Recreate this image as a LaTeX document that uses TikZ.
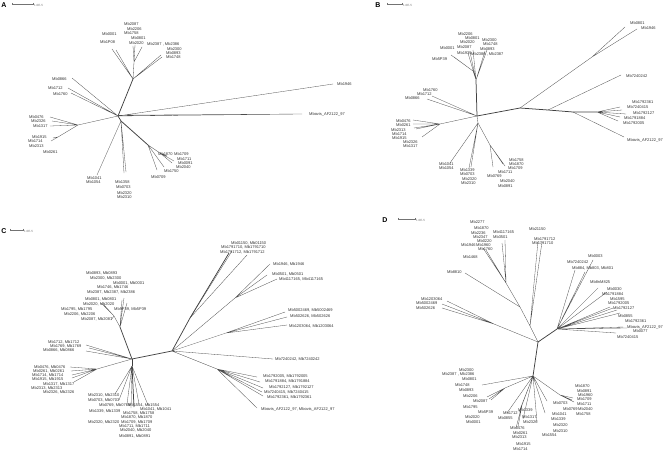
\documentclass[tikz,border=0pt]{standalone}
\usepackage{fontspec}
\setmainfont{Liberation Sans}

\tikzset{
  branch/.style = {draw=black!70, line width=0.3pt},
  trunk/.style = {draw=black!75, line width=0.75pt},
  taxon/.style = {font=\fontsize{4}{4.5}\selectfont, text=black!80, inner sep=0pt, anchor=west},
  panel/.style = {font=\bfseries\fontsize{7}{8}\selectfont, inner sep=0pt},
  scalebar/.style = {draw=black!55, line width=0.3pt},
  scaletext/.style = {font=\fontsize{3}{3.5}\selectfont, text=black!55, inner sep=0pt, anchor=west},
}

\begin{document}
\begin{tikzpicture}[x=1pt, y=-1pt]
  \useasboundingbox (0,0) rectangle (669,452);

  %% ---------------- panel A ----------------
  \node [panel] (pA) at (4,5) {A};
  \coordinate (sA1) at (12,4); \coordinate (sA2) at (33,4);
  \draw [scalebar] (sA1) -- (sA2) (sA1) ++(0,-1.2) -- ++(0,2.4) (sA2) ++(0,-1.2) -- ++(0,2.4);
  \node [scaletext] (sAt) at (34,5) {1.0E-5};

  \coordinate (aHub) at (118,116);
  \coordinate (aUp) at (133,79);
  \coordinate (aUpM) at (134,62);
  \coordinate (aLeft) at (78,125);
  \coordinate (aLeft2) at (58,137);
  \coordinate (aDown) at (121,121);
  \coordinate (aRb) at (148,145);
  \coordinate (aRb2) at (160,153);
  %% tips
  \coordinate (aT1) at (112,49);  \coordinate (aT2) at (116,50);
  \coordinate (aT3) at (133,46);  \coordinate (aT4) at (135,45);
  \coordinate (aT5) at (142,47);  \coordinate (aT6) at (161,55);
  \coordinate (aT7) at (162,57);  \coordinate (aT8) at (72,78);
  \coordinate (aT9) at (68,88);   \coordinate (aT10) at (71,93);
  \coordinate (aT11) at (50,117); \coordinate (aT12) at (52,121);
  \coordinate (aT13) at (50,126); \coordinate (aT14) at (51,141);
  \coordinate (aT15) at (53,138); \coordinate (aT16) at (333,84);
  \coordinate (aT17) at (302,114);\coordinate (aT18) at (124,173);
  \coordinate (aT19) at (126,172);\coordinate (aT20) at (97,175);
  \coordinate (aT21) at (157,170);\coordinate (aT22) at (167,156);
  \coordinate (aT23) at (172,163);\coordinate (aT24) at (174,161);
  \coordinate (aT25) at (164,167);

  \draw [trunk] (aHub) -- (aUp);
  \draw [branch] (aUp) -- (aT1) (aUp) -- (aT2) (aUp) -- (aUpM) -- (aT3) (aUpM) -- (aT4)
    (aUpM) -- (aT5) (aUp) -- (aT6) (aUp) -- (aT7);
  \draw [branch] (aHub) -- (aT8) (aHub) -- (aT9) (aHub) -- (aT10);
  \draw [branch] (aHub) -- (aLeft) -- (aT11) (aLeft) -- (aT12) (aLeft) -- (aT13)
    (aLeft) -- (aLeft2) -- (aT14) (aLeft2) -- (aT15);
  \draw [branch] (aHub) -- (aT16) (aHub) -- (aT17) ([yshift=0.8pt]aHub) -- (aT17);
  \draw [trunk] (aHub) -- (aDown) -- (aRb);
  \draw [branch] (aDown) -- (aT18) (aDown) -- (aT19) (aDown) -- (aT20)
    (aRb) -- (aT21) (aRb) -- (aRb2) -- (aT22) (aRb2) -- (aT23) (aRb2) -- (aT24) (aRb) -- (aT25);

  \node [taxon] (aL1) at (124,24) {Mb2087};
  \node [taxon] (aL2) at (127,29) {Mb2206};
  \node [taxon] (aL3) at (124,33) {Mb1758};
  \node [taxon] (aL4) at (102,34) {Mb0001};
  \node [taxon] (aL5) at (131,38) {Mb0801};
  \node [taxon] (aL6) at (100,42) {Mb1P08};
  \node [taxon] (aL7) at (129,43) {Mb2020};
  \node [taxon] (aL8) at (147,44) {Mb2387 , Mb2386};
  \node [taxon] (aL9) at (167,49) {Mb2300};
  \node [taxon] (aL10) at (166,53) {Mb0893};
  \node [taxon] (aL11) at (166,57) {Mb1748};
  \node [taxon] (aL12) at (52,79) {Mb0866};
  \node [taxon] (aL13) at (48,88) {Mb1712};
  \node [taxon] (aL14) at (53,94) {Mb1760};
  \node [taxon] (aL15) at (29,117) {Mb0476};
  \node [taxon] (aL16) at (31,121) {Mb2326};
  \node [taxon] (aL17) at (33,126) {Mb1317};
  \node [taxon] (aL18) at (32,137) {Mb1915};
  \node [taxon] (aL19) at (28,141) {Mb1714};
  \node [taxon] (aL20) at (29,146) {Mb2313};
  \node [taxon] (aL21) at (43,152) {Mb0261};
  \node [taxon] (aL22) at (337,84) {Mb1946};
  \node [taxon] (aL23) at (309,114) {Mbovis\_AF2122\_97};
  \node [taxon] (aL24) at (158,154) {Mb1870};
  \node [taxon] (aL25) at (174,154) {Mb1709};
  \node [taxon] (aL26) at (177,159) {Mb1711};
  \node [taxon] (aL27) at (178,163) {Mb0091};
  \node [taxon] (aL28) at (176,167) {Mb2040};
  \node [taxon] (aL29) at (164,171) {Mb1750};
  \node [taxon] (aL30) at (151,177) {Mb0709};
  \node [taxon] (aL31) at (87,178) {Mb1041};
  \node [taxon] (aL32) at (86,182) {Mb1054};
  \node [taxon] (aL33) at (115,182) {Mb1358};
  \node [taxon] (aL34) at (116,187) {Mb0703};
  \node [taxon] (aL35) at (117,193) {Mb2320};
  \node [taxon] (aL36) at (117,197) {Mb2310};

  %% ---------------- panel B ----------------
  \node [panel] (pB) at (378,5) {B};
  \coordinate (sB1) at (387,4); \coordinate (sB2) at (402,4);
  \draw [scalebar] (sB1) -- (sB2) (sB1) ++(0,-1.2) -- ++(0,2.4) (sB2) ++(0,-1.2) -- ++(0,2.4);
  \node [scaletext] (sBt) at (403,5) {1.0E-5};

  \coordinate (bHub) at (477,116);
  \coordinate (bUp) at (476,80);
  \coordinate (bUpL) at (473,71);
  \coordinate (bLeft) at (440,124);
  \coordinate (bDown) at (478,123);
  \coordinate (bRb) at (490,145);
  \coordinate (bR1) at (520,108);
  \coordinate (bR2) at (548,110);
  \coordinate (bR3) at (573,112);
  \coordinate (bR4) at (597,112);
  \coordinate (bB1) at (592,57);
  %% tips
  \coordinate (bT1) at (451,55);  \coordinate (bT2) at (454,57);
  \coordinate (bT3) at (468,53);  \coordinate (bT4) at (470,52);
  \coordinate (bT5) at (473,50);  \coordinate (bT6) at (485,51);
  \coordinate (bT7) at (487,50);  \coordinate (bT8) at (432,96);
  \coordinate (bT9) at (427,99);  \coordinate (bT10) at (413,120);
  \coordinate (bT11) at (413,124);\coordinate (bT12) at (414,128);
  \coordinate (bT13) at (416,129);\coordinate (bT14) at (422,137);
  \coordinate (bT15) at (450,163);\coordinate (bT16) at (469,168);
  \coordinate (bT17) at (471,167);\coordinate (bT18) at (493,167);
  \coordinate (bT19) at (503,164);\coordinate (bT20) at (505,166);
  \coordinate (bT21) at (625,27); \coordinate (bT22) at (637,29);
  \coordinate (bT23) at (621,75); \coordinate (bT24) at (620,107);
  \coordinate (bT25) at (622,110);\coordinate (bT26) at (626,114);
  \coordinate (bT27) at (620,117);\coordinate (bT28) at (618,121);
  \coordinate (bT29) at (624,137);

  \draw [trunk] (bHub) -- (bUp);
  \draw [branch] (bUp) -- (bUpL) -- (bT1) (bUpL) -- (bT2) (bUp) -- (bT3) (bUp) -- (bT4)
    (bUp) -- (bT5) (bUp) -- (bT6) (bUp) -- (bT7);
  \draw [branch] (bHub) -- (bT8) (bHub) -- (bT9);
  \draw [branch] (bHub) -- (bLeft) -- (bT10) (bLeft) -- (bT11) (bLeft) -- (bT12)
    (bLeft) -- (bT13) (bLeft) -- (bT14);
  \draw [branch] (bHub) -- (bDown) -- (bT15) (bDown) -- (bT16) (bDown) -- (bT17)
    (bDown) -- (bRb) -- (bT18) (bRb) -- (bT19) (bRb) -- (bT20);
  \draw [trunk] (bHub) -- (bR1) -- (bR2) -- (bR3) -- (bR4);
  \draw [branch] (bR1) -- (bB1) -- (bT21) (bB1) -- (bT22) (bR2) -- (bT23)
    (bR4) -- (bT24) (bR4) -- (bT25) (bR4) -- (bT26) (bR4) -- (bT27) (bR4) -- (bT28)
    (bR3) -- (bT29);

  \node [taxon] (bL1) at (458,34) {Mb2206};
  \node [taxon] (bL2) at (465,38) {Mb0801};
  \node [taxon] (bL3) at (460,42) {Mb2020};
  \node [taxon] (bL4) at (482,40) {Mb2300};
  \node [taxon] (bL5) at (483,44) {Mb1748};
  \node [taxon] (bL6) at (480,49) {Mb0893};
  \node [taxon] (bL7) at (440,48) {Mb0001};
  \node [taxon] (bL8) at (457,47) {Mb2087};
  \node [taxon] (bL9) at (457,53) {Mb1935};
  \node [taxon] (bL10) at (471,54) {Mb2386 , Mb2387};
  \node [taxon] (bL11) at (432,59) {Mb5P39};
  \node [taxon] (bL12) at (423,90) {Mb1760};
  \node [taxon] (bL13) at (417,94) {Mb1712};
  \node [taxon] (bL14) at (405,98) {Mb0866};
  \node [taxon] (bL15) at (396,121) {Mb0476};
  \node [taxon] (bL16) at (396,125) {Mb0261};
  \node [taxon] (bL17) at (391,130) {Mb2313};
  \node [taxon] (bL18) at (392,134) {Mb1714};
  \node [taxon] (bL19) at (392,138) {Mb1915};
  \node [taxon] (bL20) at (403,142) {Mb2326};
  \node [taxon] (bL21) at (403,146) {Mb1317};
  \node [taxon] (bL22) at (439,164) {Mb1041};
  \node [taxon] (bL23) at (439,168) {Mb1054};
  \node [taxon] (bL24) at (460,170) {Mb1339};
  \node [taxon] (bL25) at (460,174) {Mb0703};
  \node [taxon] (bL26) at (462,179) {Mb2320};
  \node [taxon] (bL27) at (461,183) {Mb2310};
  \node [taxon] (bL28) at (509,160) {Mb1758};
  \node [taxon] (bL29) at (509,164) {Mb1870};
  \node [taxon] (bL30) at (508,168) {Mb1709};
  \node [taxon] (bL31) at (498,172) {Mb1711};
  \node [taxon] (bL32) at (487,176) {Mb0769};
  \node [taxon] (bL33) at (500,181) {Mb2040};
  \node [taxon] (bL34) at (498,186) {Mb0891};
  \node [taxon] (bL35) at (630,23) {Mb0801};
  \node [taxon] (bL36) at (641,28) {Mb1946};
  \node [taxon] (bL37) at (626,76) {Mb7240242};
  \node [taxon] (bL38) at (632,102) {Mb1792361};
  \node [taxon] (bL39) at (627,107) {Mb7240415};
  \node [taxon] (bL40) at (633,113) {Mb1792127};
  \node [taxon] (bL41) at (624,118) {Mb1791884};
  \node [taxon] (bL42) at (623,123) {Mb1792005};
  \node [taxon] (bL43) at (627,140) {Mbovis\_AF2122\_97};

  %% ---------------- panel C ----------------
  \node [panel] (pC) at (4,231) {C};
  \coordinate (sC1) at (10,230); \coordinate (sC2) at (23,230);
  \draw [scalebar] (sC1) -- (sC2) (sC1) ++(0,-1.2) -- ++(0,2.4) (sC2) ++(0,-1.2) -- ++(0,2.4);
  \node [scaletext] (sCt) at (24,231) {1.0E-5};

  \coordinate (cHub) at (132,359);
  \coordinate (cUp) at (120,327);
  \coordinate (cUpL) at (114,316);
  \coordinate (cLeft) at (97,369);
  \coordinate (cDown) at (132,366);
  \coordinate (cR) at (172,351);
  \coordinate (cRu) at (190,318);
  \coordinate (cRm) at (235,298);
  \coordinate (cRl2) at (226,333);
  \coordinate (cRl) at (217,369);
  %% tips
  \coordinate (cT1) at (104,305); \coordinate (cT2) at (101,303);
  \coordinate (cT3) at (108,310); \coordinate (cT4) at (111,320);
  \coordinate (cT5) at (122,300); \coordinate (cT6) at (124,298);
  \coordinate (cT7) at (127,303); \coordinate (cT8) at (86,345);
  \coordinate (cT9) at (89,348);  \coordinate (cT10) at (86,351);
  \coordinate (cT11) at (70,367); \coordinate (cT12) at (71,371);
  \coordinate (cT13) at (72,375); \coordinate (cT14) at (72,378);
  \coordinate (cT15) at (74,382); \coordinate (cT16) at (115,394);
  \coordinate (cT17) at (119,400);\coordinate (cT18) at (127,404);
  \coordinate (cT19) at (131,408);\coordinate (cT20) at (134,407);
  \coordinate (cT21) at (139,404);\coordinate (cT22) at (148,405);
  \coordinate (cT23) at (229,253);\coordinate (cT24) at (232,251);
  \coordinate (cT25) at (247,255);\coordinate (cT26) at (270,264);
  \coordinate (cT27) at (267,275);\coordinate (cT28) at (277,279);
  \coordinate (cT29) at (285,312);\coordinate (cT30) at (287,317);
  \coordinate (cT31) at (287,325);\coordinate (cT32) at (273,359);
  \coordinate (cT33) at (257,377);\coordinate (cT34) at (260,382);
  \coordinate (cT35) at (263,388);\coordinate (cT36) at (262,392);
  \coordinate (cT37) at (263,396);\coordinate (cT38) at (257,408);

  \draw [trunk] (cHub) -- (cUp);
  \draw [branch] (cUp) -- (cUpL) -- (cT1) (cUpL) -- (cT2) (cUpL) -- (cT3) (cUpL) -- (cT4)
    (cUp) -- (cT5) (cUp) -- (cT6) (cUp) -- (cT7);
  \draw [branch] (cHub) -- (cT8) (cHub) -- (cT9) (cHub) -- (cT10);
  \draw [branch] (cHub) -- (cLeft) -- (cT11) (cLeft) -- (cT12) (cLeft) -- (cT13)
    (cLeft) -- (cT14) (cLeft) -- (cT15);
  \draw [trunk] (cHub) -- (cDown);
  \draw [branch] (cDown) -- (cT16) (cDown) -- (cT17) (cDown) -- (cT18) (cDown) -- (cT19)
    (cDown) -- (cT21) (cDown) -- (cT22);
  \draw [trunk] (cDown) -- (cT20);
  \draw [trunk] (cHub) -- (cR) -- (cRu) -- (cT23);
  \draw [branch] (cRu) -- (cT24) (cRu) -- (cT25)
    (cR) -- (cRm) -- (cT26) (cRm) -- (cT27) (cRm) -- (cT28)
    (cR) -- (cRl2) -- (cT29) (cRl2) -- (cT30) (cRl2) -- (cT31)
    (cR) -- (cT32)
    (cR) -- (cRl) -- (cT33) (cRl) -- (cT34) (cRl) -- (cT35) (cRl) -- (cT36) (cRl) -- (cT37)
    (cRl) -- (cT38);

  \node [taxon] (cL1) at (86,273) {Mb0893, Mb0893};
  \node [taxon] (cL2) at (90,278) {Mb2300, Mb2300};
  \node [taxon] (cL3) at (113,283) {Mb0001, Mb0001};
  \node [taxon] (cL4) at (97,287) {Mb1746, Mb1746};
  \node [taxon] (cL5) at (87,292) {Mb2387, Mb2387, Mb2386};
  \node [taxon] (cL6) at (85,299) {Mb0801, Mb0801};
  \node [taxon] (cL7) at (83,304) {Mb2020, Mb2020};
  \node [taxon] (cL8) at (114,309) {Mb5P39, Mb5P39};
  \node [taxon] (cL9) at (61,309) {Mb1795, Mb1795};
  \node [taxon] (cL10) at (64,314) {Mb2206, Mb2206};
  \node [taxon] (cL11) at (81,319) {Mb2087, Mb2087};
  \node [taxon] (cL12) at (48,342) {Mb1712, Mb1712};
  \node [taxon] (cL13) at (50,346) {Mb1769, Mb1769};
  \node [taxon] (cL14) at (43,350) {Mb0866, Mb0866};
  \node [taxon] (cL15) at (34,367) {Mb0476, Mb0476};
  \node [taxon] (cL16) at (33,371) {Mb0261, Mb0261};
  \node [taxon] (cL17) at (32,375) {Mb1714, Mb1714};
  \node [taxon] (cL18) at (32,379) {Mb1915, Mb1915};
  \node [taxon] (cL19) at (43,384) {Mb1317, Mb1317};
  \node [taxon] (cL20) at (31,388) {Mb2313, Mb2313};
  \node [taxon] (cL21) at (43,392) {Mb2326, Mb2326};
  \node [taxon] (cL22) at (88,395) {Mb2310, Mb2310};
  \node [taxon] (cL23) at (88,400) {Mb0703, Mb0703};
  \node [taxon] (cL24) at (99,405) {Mb0769, Mb0769};
  \node [taxon] (cL25) at (128,405) {Mb1554, Mb1554};
  \node [taxon] (cL26) at (140,409) {Mb1041, Mb1041};
  \node [taxon] (cL27) at (89,411) {Mb1339, Mb1339};
  \node [taxon] (cL28) at (123,413) {Mb1758, Mb1758};
  \node [taxon] (cL29) at (121,417) {Mb1870, Mb1870};
  \node [taxon] (cL30) at (88,422) {Mb2320, Mb2320};
  \node [taxon] (cL31) at (121,422) {Mb1709, Mb1709};
  \node [taxon] (cL32) at (119,426) {Mb1711, Mb1711};
  \node [taxon] (cL33) at (120,430) {Mb2040, Mb2040};
  \node [taxon] (cL34) at (119,436) {Mb0891, Mb0891};
  \node [taxon] (cL35) at (231,243) {Mb01150, Mb01150};
  \node [taxon] (cL36) at (221,247) {Mb1791710, Mb1791710};
  \node [taxon] (cL37) at (220,252) {Mb1791712, Mb1791712};
  \node [taxon] (cL38) at (273,264) {Mb1946, Mb1946};
  \node [taxon] (cL39) at (272,274) {Mb0501, Mb0501};
  \node [taxon] (cL40) at (279,279) {Mb4117165, Mb4117165};
  \node [taxon] (cL41) at (288,310) {Mb5002469, Mb5002469};
  \node [taxon] (cL42) at (290,316) {Mb502626, Mb502626};
  \node [taxon] (cL43) at (289,326) {Mb1203064, Mb1203064};
  \node [taxon] (cL44) at (275,359) {Mb7240242, Mb7240242};
  \node [taxon] (cL45) at (263,376) {Mb1792005, Mb1792005};
  \node [taxon] (cL46) at (265,381) {Mb1791884, Mb1791884};
  \node [taxon] (cL47) at (269,387) {Mb1792127, Mb1792127};
  \node [taxon] (cL48) at (264,392) {Mb7240415, Mb7240415};
  \node [taxon] (cL49) at (267,397) {Mb1792361, Mb1792361};
  \node [taxon] (cL50) at (261,409) {Mbovis\_AF2122\_97, Mbovis\_AF2122\_97};

  %% ---------------- panel D ----------------
  \node [panel] (pD) at (385,220) {D};
  \coordinate (sD1) at (398,219); \coordinate (sD2) at (415,219);
  \draw [scalebar] (sD1) -- (sD2) (sD1) ++(0,-1.2) -- ++(0,2.4) (sD2) ++(0,-1.2) -- ++(0,2.4);
  \node [scaletext] (sDt) at (416,220) {1.0E-5};

  \coordinate (dHub) at (538,342);
  \coordinate (dLow) at (533,376);
  \coordinate (dB) at (530,326);
  \coordinate (dA) at (520,307);
  \coordinate (dU) at (506,283);
  \coordinate (dC) at (494,324);
  \coordinate (dR) at (557,329);
  \coordinate (dLl) at (505,388);
  \coordinate (dLb) at (522,405);
  \coordinate (dLr) at (560,395);
  %% tips
  \coordinate (dT1) at (538,241); \coordinate (dT2) at (542,242);
  \coordinate (dT3) at (465,273); \coordinate (dT4) at (483,248);
  \coordinate (dT5) at (486,250); \coordinate (dT6) at (502,243);
  \coordinate (dT7) at (505,240); \coordinate (dT8) at (447,301);
  \coordinate (dT9) at (442,304); \coordinate (dT10) at (442,308);
  \coordinate (dT11) at (575,270);\coordinate (dT12) at (585,272);
  \coordinate (dT13) at (593,260);\coordinate (dT14) at (598,288);
  \coordinate (dT15) at (607,292);\coordinate (dT16) at (610,307);
  \coordinate (dT17) at (613,308);\coordinate (dT18) at (617,310);
  \coordinate (dT19) at (620,313);\coordinate (dT20) at (623,327);
  \coordinate (dT21) at (627,328);\coordinate (dT22) at (616,333);
  \coordinate (dT23) at (482,385);\coordinate (dT24) at (487,397);
  \coordinate (dT25) at (489,399);\coordinate (dT26) at (491,400);
  \coordinate (dT27) at (507,413);\coordinate (dT28) at (519,412);
  \coordinate (dT29) at (516,428);\coordinate (dT30) at (518,427);
  \coordinate (dT31) at (523,419);\coordinate (dT32) at (547,401);
  \coordinate (dT33) at (545,413);\coordinate (dT34) at (537,422);
  \coordinate (dT35) at (572,400);\coordinate (dT36) at (574,402);
  \coordinate (dT37) at (573,398);

  \draw [trunk] (dHub) -- (dLow);
  \draw [branch] (dHub) -- (dB) -- (dA) -- (dU) (dB) -- (dT1) (dB) -- (dT2) (dA) -- (dT3)
    (dU) -- (dT4) (dU) -- (dT5) (dU) -- (dT6) (dU) -- (dT7);
  \draw [branch] (dHub) -- (dC) -- (dT8) (dC) -- (dT9) (dC) -- (dT10);
  \draw [trunk] (dHub) -- (dR);
  \draw [branch] (dR) -- (dT11) (dR) -- (dT12) (dR) -- (dT13) (dR) -- (dT14) (dR) -- (dT15)
    (dR) -- (dT16) (dR) -- (dT17) (dR) -- (dT18) (dR) -- (dT19) (dR) -- (dT20)
    (dR) -- (dT21) (dR) -- (dT22);
  \draw [branch] (dLow) -- (dT23) (dLow) -- (dLl) -- (dT24) (dLl) -- (dT25) (dLl) -- (dT26)
    (dLow) -- (dT27) (dLow) -- (dT28) (dLow) -- (dLb) -- (dT29) (dLb) -- (dT30)
    (dLow) -- (dT31) (dLow) -- (dT32) (dLow) -- (dT33) (dLow) -- (dT34)
    (dLow) -- (dLr) -- (dT35) (dLr) -- (dT36) (dLr) -- (dT37);

  \node [taxon] (dL1) at (470,222) {Mb2277};
  \node [taxon] (dL2) at (474,228) {Mb1870};
  \node [taxon] (dL3) at (471,233) {Mb2236};
  \node [taxon] (dL4) at (473,237) {Mb2347};
  \node [taxon] (dL5) at (477,241) {Mb0220};
  \node [taxon] (dL6) at (461,245) {Mb1946};
  \node [taxon] (dL7) at (476,245) {Mb1960};
  \node [taxon] (dL8) at (478,249) {Mb1760};
  \node [taxon] (dL9) at (463,257) {Mb1468};
  \node [taxon] (dL10) at (447,272) {Mb8810};
  \node [taxon] (dL11) at (493,232) {Mb4117165};
  \node [taxon] (dL12) at (493,237) {Mb3501};
  \node [taxon] (dL13) at (529,229) {Mb21150};
  \node [taxon] (dL14) at (534,239) {Mb1791712};
  \node [taxon] (dL15) at (532,243) {Mb1791710};
  \node [taxon] (dL16) at (421,299) {Mb1203064};
  \node [taxon] (dL17) at (416,303) {Mb5002469};
  \node [taxon] (dL18) at (416,308) {Mb502626};
  \node [taxon] (dL19) at (588,256) {Mb0003};
  \node [taxon] (dL20) at (567,262) {Mb7240242};
  \node [taxon] (dL21) at (572,268) {Mb884, Mb803, Mb801};
  \node [taxon] (dL22) at (590,282) {Mb8nM825};
  \node [taxon] (dL23) at (607,289) {Mb0030};
  \node [taxon] (dL24) at (602,294) {Mb1791884};
  \node [taxon] (dL25) at (610,299) {Mb1595};
  \node [taxon] (dL26) at (608,303) {Mb1792005};
  \node [taxon] (dL27) at (613,308) {Mb1792127};
  \node [taxon] (dL28) at (618,316) {Mb0855};
  \node [taxon] (dL29) at (625,321) {Mb1792361};
  \node [taxon] (dL30) at (627,327) {Mbovis\_AF2122\_97};
  \node [taxon] (dL31) at (633,331) {Mb0077};
  \node [taxon] (dL32) at (617,337) {Mb7240415};
  \node [taxon] (dL33) at (459,370) {Mb2300};
  \node [taxon] (dL34) at (442,374) {Mb2387 , Mb2386};
  \node [taxon] (dL35) at (462,379) {Mb0801};
  \node [taxon] (dL36) at (455,385) {Mb1748};
  \node [taxon] (dL37) at (459,390) {Mb0893};
  \node [taxon] (dL38) at (463,396) {Mb2206};
  \node [taxon] (dL39) at (473,401) {Mb2087};
  \node [taxon] (dL40) at (463,407) {Mb1795};
  \node [taxon] (dL41) at (478,412) {Mb5P39};
  \node [taxon] (dL42) at (465,417) {Mb2020};
  \node [taxon] (dL43) at (466,422) {Mb0001};
  \node [taxon] (dL44) at (503,413) {Mb1712};
  \node [taxon] (dL45) at (498,418) {Mb0855};
  \node [taxon] (dL46) at (518,410) {Mb1339};
  \node [taxon] (dL47) at (522,417) {Mb1317};
  \node [taxon] (dL48) at (523,422) {Mb2326};
  \node [taxon] (dL49) at (510,428) {Mb0476};
  \node [taxon] (dL50) at (513,433) {Mb0261};
  \node [taxon] (dL51) at (512,437) {Mb2313};
  \node [taxon] (dL52) at (516,444) {Mb1915};
  \node [taxon] (dL53) at (513,449) {Mb1714};
  \node [taxon] (dL54) at (553,403) {Mb0703};
  \node [taxon] (dL55) at (563,409) {Mb0769};
  \node [taxon] (dL56) at (552,414) {Mb1041};
  \node [taxon] (dL57) at (551,419) {Mb1339};
  \node [taxon] (dL58) at (553,425) {Mb2320};
  \node [taxon] (dL59) at (553,431) {Mb2310};
  \node [taxon] (dL60) at (542,435) {Mb1554};
  \node [taxon] (dL61) at (575,386) {Mb1870};
  \node [taxon] (dL62) at (577,391) {Mb0891};
  \node [taxon] (dL63) at (578,395) {Mb1960};
  \node [taxon] (dL64) at (577,399) {Mb1709};
  \node [taxon] (dL65) at (577,404) {Mb1711};
  \node [taxon] (dL66) at (578,409) {Mb2040};
  \node [taxon] (dL67) at (576,414) {Mb1758};
\end{tikzpicture}
\end{document}
